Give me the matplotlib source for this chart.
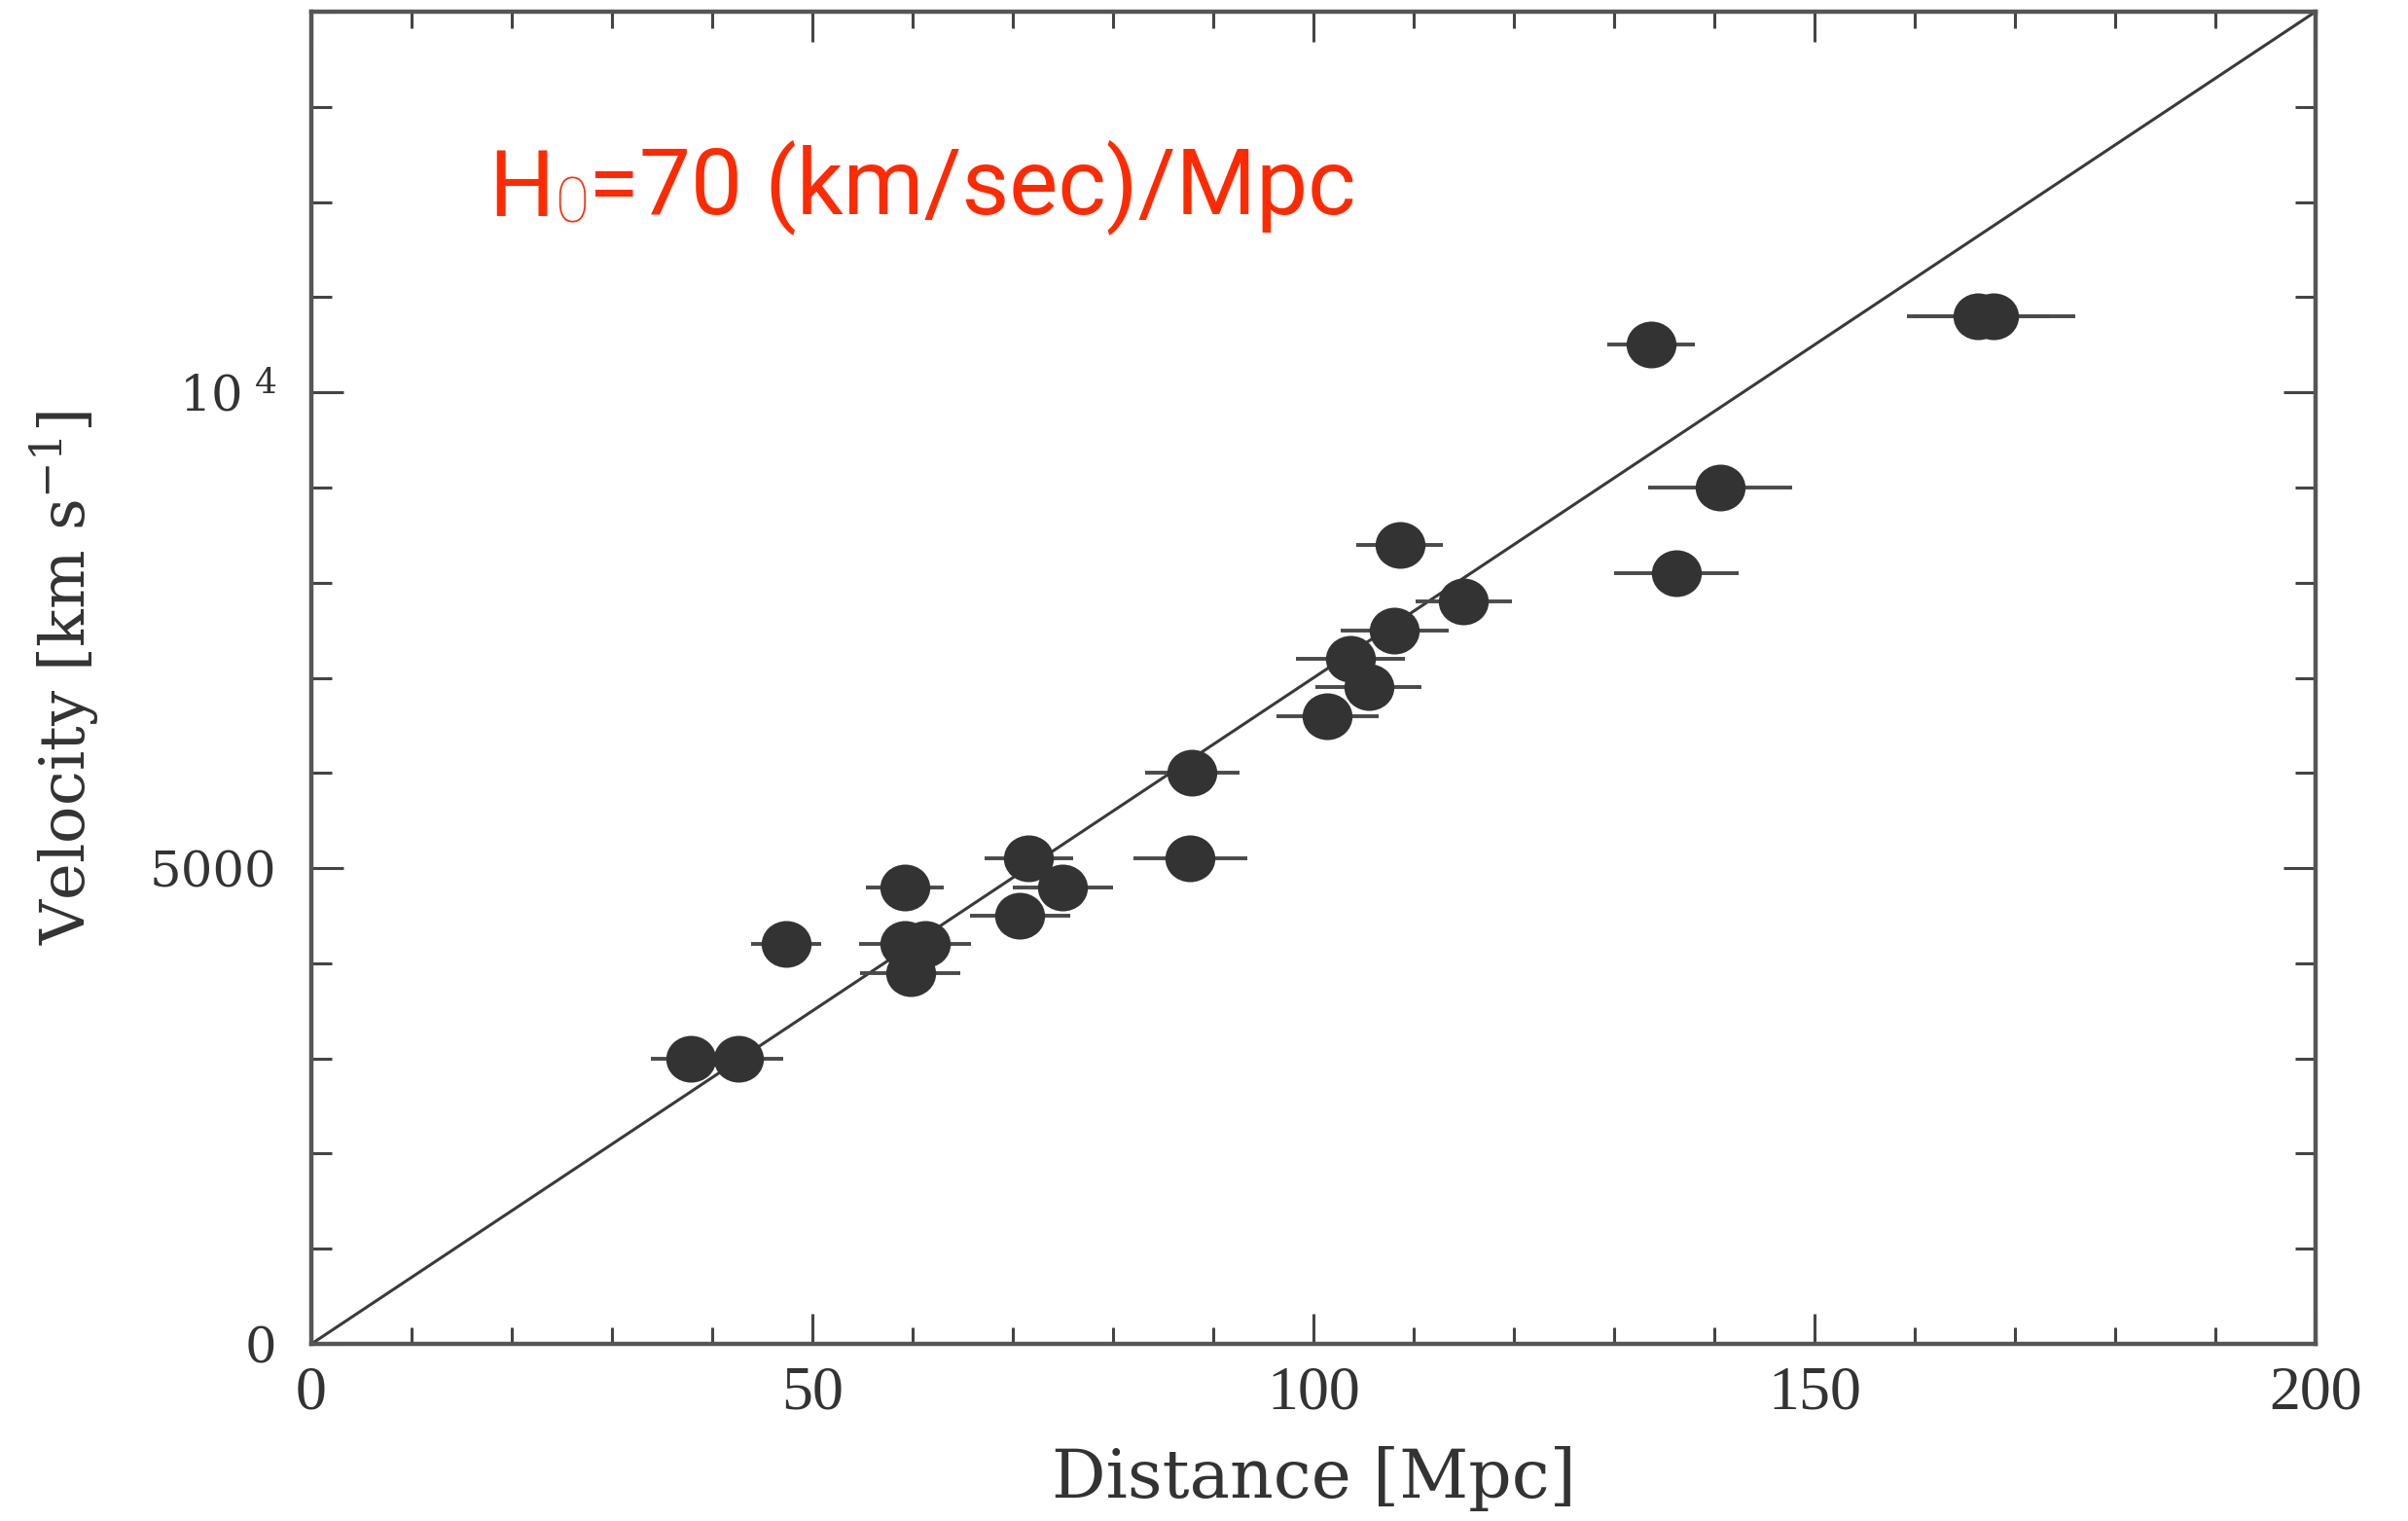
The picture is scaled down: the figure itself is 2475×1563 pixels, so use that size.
import matplotlib
matplotlib.use("Agg")
import matplotlib.pyplot as plt
from matplotlib.path import Path
from matplotlib.transforms import Affine2D
from matplotlib.ticker import MultipleLocator, FixedLocator, FixedFormatter

# Hubble diagram data: distance [Mpc], velocity [km/s], distance error
distance = [37.9, 42.6, 47.4, 59.2, 59.2, 61.3, 59.8, 70.7, 71.6, 75.0,
            87.9, 87.7, 101.4, 103.7, 105.5, 108.1, 108.6, 115.0,
            133.7, 136.2, 140.6, 166.3, 167.9]
velocity = [3000, 3000, 4200, 4800, 4200, 4200, 3900, 4500, 5100, 4800,
            6000, 5100, 6600, 7200, 6900, 7500, 8400, 7800,
            10500, 8100, 9000, 10800, 10800]
dist_err = [4.0, 4.5, 3.5, 3.9, 4.5, 4.5, 5.0, 5.0, 4.4, 5.0,
            4.7, 5.7, 5.1, 5.4, 5.3, 5.4, 4.3, 4.8,
            4.4, 6.2, 7.2, 7.1, 8.1]

# H0 = 70 line
fit_d = [0, 200]
fit_v = [0, 14000]

ytick_vals = [0, 5000, 10000]
ytick_text = ["0", "5000", r"10$^{\ 4}$"]

plt.rcParams["mathtext.fontset"] = "dejavuserif"
ink = "#333333"

fig = plt.figure(figsize=(24.75, 15.63), dpi=100)
ax = fig.add_axes([0.1293, 0.1164, 0.8323, 0.8759])

ax.plot(fit_d, fit_v, color="#3a3a3a", lw=2.2, zorder=1)
ax.errorbar(distance, velocity, xerr=dist_err, fmt="none", ecolor="#4a4a4a",
            elinewidth=2.8, capsize=0, zorder=2)

# slightly flattened filled dots
ell = Path.unit_circle().transformed(Affine2D().scale(1.07, 1.0))
ax.plot(distance, velocity, ls="none", marker=ell, ms=37,
        mfc=ink, mec=ink, mew=0, zorder=3)

ax.set_xlim(0, 200)
ax.set_ylim(0, 14000)

for s in ax.spines.values():
    s.set_color("#555555")
    s.set_linewidth(3.2)

ax.xaxis.set_major_locator(MultipleLocator(50))
ax.xaxis.set_minor_locator(MultipleLocator(10))
ax.yaxis.set_major_locator(FixedLocator(ytick_vals))
ax.yaxis.set_major_formatter(FixedFormatter(ytick_text))
ax.yaxis.set_minor_locator(MultipleLocator(1000))

ax.tick_params(axis="both", which="both", direction="in", top=True, right=True,
               color="#444444", width=2.2)
ax.tick_params(axis="x", which="major", length=22, pad=16)
ax.tick_params(axis="x", which="minor", length=12)
ax.tick_params(axis="y", which="major", length=24, pad=26)
ax.tick_params(axis="y", which="minor", length=15)

for lab in ax.get_xticklabels():
    lab.set_fontfamily("Liberation Serif")
    lab.set_fontsize(46)
    lab.set_color(ink)
for lab in ax.get_yticklabels():
    lab.set_fontfamily("DejaVu Serif")
    lab.set_fontsize(37)
    lab.set_color(ink)

ax.set_xlabel("Distance [Mpc]", fontfamily="DejaVu Serif", fontsize=50, color=ink)
ax.set_ylabel(r"Velocity [km s$^{-1}$]", fontfamily="DejaVu Serif", fontsize=46, color=ink)
ax.xaxis.set_label_coords(0.5, -0.077)
ax.yaxis.set_label_coords(-0.105, 0.5)

# red annotation with subscript 0
red = "#ff2a00"
t1 = ax.text(17.7, 11850, "H", fontfamily="Roboto", fontweight="normal",
             fontsize=68, color=red, va="baseline", ha="left")
t2 = ax.annotate("0", xy=(1, 0), xycoords=t1, fontfamily="Roboto",
                 fontweight="light", fontsize=46, color=red, va="bottom", ha="left")
ax.annotate("=70 (km/sec)/Mpc", xy=(1, 0), xycoords=(t2, t1), fontfamily="Roboto",
            fontweight="normal", fontsize=68, color=red, va="bottom", ha="left")

fig.savefig("out.png", dpi=100)
